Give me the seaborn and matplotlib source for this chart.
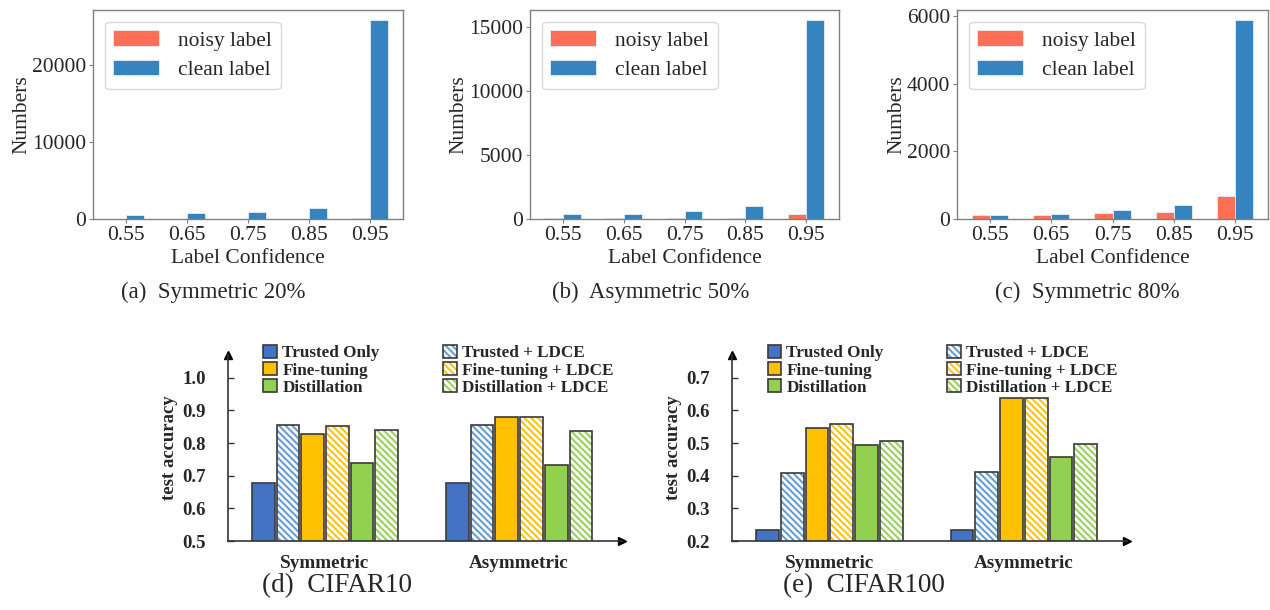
import numpy as np
import pandas as pd
import matplotlib
matplotlib.use('Agg')
import matplotlib.pyplot as plt
from matplotlib.colors import to_rgba
import seaborn as sns

# ---- top row: label confidence histograms ----
conf_bins = ['0.55', '0.65', '0.75', '0.85', '0.95']
label_kinds = ['noisy label', 'clean label']
sym20_noisy = [15, 20, 25, 35, 130]
sym20_clean = [560, 740, 960, 1480, 25850]
asym50_noisy = [90, 95, 100, 110, 390]
asym50_clean = [370, 420, 630, 1020, 15550]
sym80_noisy = [120, 120, 180, 215, 680]
sym80_clean = [120, 160, 265, 415, 5880]
top_captions = ['(a)  Symmetric 20%', '(b)  Asymmetric 50%', '(c)  Symmetric 80%']

# ---- bottom row: test accuracy ----
noise_types = ['Symmetric', 'Asymmetric']
methods = ['Trusted Only', 'Trusted + LDCE', 'Fine-tuning', 'Fine-tuning + LDCE',
           'Distillation', 'Distillation + LDCE']
cifar10_sym = [0.678, 0.857, 0.829, 0.853, 0.739, 0.839]
cifar10_asym = [0.678, 0.857, 0.880, 0.880, 0.734, 0.836]
cifar100_sym = [0.235, 0.407, 0.547, 0.560, 0.493, 0.506]
cifar100_asym = [0.235, 0.411, 0.637, 0.637, 0.457, 0.496]
bottom_captions = ['(d)  CIFAR10', '(e)  CIFAR100']

noisy_color = '#FF6F56'
clean_color = '#3584BF'
method_colors = ['#4472C4', '#5B9BD5', '#FFC000', '#FFC000', '#92D050', '#92D050']

sns.set_style("ticks")
plt.rcParams['font.family'] = ['Liberation Serif', 'DejaVu Serif']
plt.rcParams['hatch.linewidth'] = 1.4

W, H = 1270, 610
fig = plt.figure(figsize=(12.7, 6.1), dpi=100)


def px_axes(left, right, top, bottom):
    return fig.add_axes([left / W, 1 - bottom / H, (right - left) / W, (bottom - top) / H])


top_boxes = [(93, 403), (530, 839), (957, 1268)]
top_data = [(sym20_noisy, sym20_clean), (asym50_noisy, asym50_clean), (sym80_noisy, sym80_clean)]
caption_x = [213, 651, 1087]
fs = 15.5

for (l, r), (noisy, clean), cap, cx in zip(top_boxes, top_data, top_captions, caption_x):
    ax = px_axes(l, r, 10, 219)
    df = pd.DataFrame({
        'conf': conf_bins * 2,
        'kind': [label_kinds[0]] * len(noisy) + [label_kinds[1]] * len(clean),
        'count': noisy + clean,
    })
    sns.barplot(data=df, x='conf', y='count', hue='kind', hue_order=label_kinds,
                palette=[noisy_color, clean_color], width=0.59, saturation=1,
                edgecolor='#e6eef6', linewidth=0.6, ax=ax)
    ax.set_xlim(-0.54, 4.54)
    ax.set_xlabel('Label Confidence', fontsize=fs, labelpad=3)
    ax.set_ylabel('Numbers', fontsize=fs, labelpad=0)
    ax.tick_params(labelsize=fs, color='#808080', length=3, pad=2)
    for s in ax.spines.values():
        s.set_color('#808080')
        s.set_linewidth(1.0)
    sns.move_legend(ax, 'upper left', title=None, fontsize=fs, handlelength=2.1,
                    handleheight=0.7, handletextpad=0.9, borderaxespad=0.55,
                    labelspacing=0.45, frameon=True, framealpha=0.8,
                    edgecolor='#d0d0d0', fancybox=True)
    fig.text(cx / W, 1 - 292 / H, cap, fontsize=16.5, ha='center', va='center')

# ---- bottom row ----
bottom_boxes = [(228, 622, 0.5, 1.07, 337), (732, 1127, 0.2, 0.77, 864)]
bottom_data = [(cifar10_sym, cifar10_asym), (cifar100_sym, cifar100_asym)]
dark = '#333333'
hatch = '\\\\\\\\\\'

for (l, r, ylo, yhi, cx), (sym, asym), cap in zip(bottom_boxes, bottom_data, bottom_captions):
    ax = px_axes(l, r, 355, 541)
    df = pd.DataFrame({
        'noise': [noise_types[0]] * len(sym) + [noise_types[1]] * len(asym),
        'method': methods * 2,
        'acc': sym + asym,
    })
    sns.barplot(data=df, x='noise', y='acc', hue='method', hue_order=methods,
                palette=method_colors, width=0.764, gap=0.08, saturation=1,
                edgecolor='#3a3a3a', linewidth=1.2, legend=False, ax=ax)
    for i, (cont, col) in enumerate(zip(ax.containers, method_colors)):
        if i % 2 == 1:
            for p in cont:
                p.set_facecolor('white')
                p.set_hatch(hatch)
                p._hatch_color = to_rgba(col)
    ax.set_xlim(-0.5, 1.53)
    ax.set_ylim(ylo, yhi)
    yt = np.round(np.arange(ylo, yhi - 0.05, 0.1), 1)
    ax.set_yticks(yt)
    ax.set_yticklabels([f'{v:.1f}' for v in yt], fontweight='bold', fontsize=13.5)
    ax.set_xticks([0, 1])
    ax.set_xticklabels(noise_types, fontweight='bold', fontsize=13.8)
    ax.tick_params(axis='y', direction='in', length=4, width=1, color=dark, pad=16)
    ax.tick_params(axis='x', length=0, pad=10)
    ax.set_xlabel('')
    ax.set_ylabel('test accuracy', fontweight='bold', fontsize=13.5, labelpad=3)
    sns.despine(ax=ax)
    for s in ['left', 'bottom']:
        ax.spines[s].set_color(dark)
        ax.spines[s].set_linewidth(1.2)
    ax.plot(1, 0, '>', color='black', ms=5.5, transform=ax.transAxes, clip_on=False)
    ax.plot(0, 1, '^', color='black', ms=5.5, transform=ax.transAxes, clip_on=False)

    order = [0, 2, 4, 1, 3, 5]
    ax.legend([ax.containers[i] for i in order], [methods[i] for i in order],
              loc='upper left', bbox_to_anchor=(0.09, 1.055), ncol=2, frameon=False,
              prop={'weight': 'bold', 'size': 12.3}, handlelength=0.8, handleheight=0.8,
              handletextpad=0.3, labelspacing=0.05, columnspacing=3.7, borderpad=0,
              borderaxespad=0)
    fig.text(cx / W, 1 - 586 / H, cap, fontsize=19.5, ha='center', va='center')

fig.savefig('out.png', dpi=100)
